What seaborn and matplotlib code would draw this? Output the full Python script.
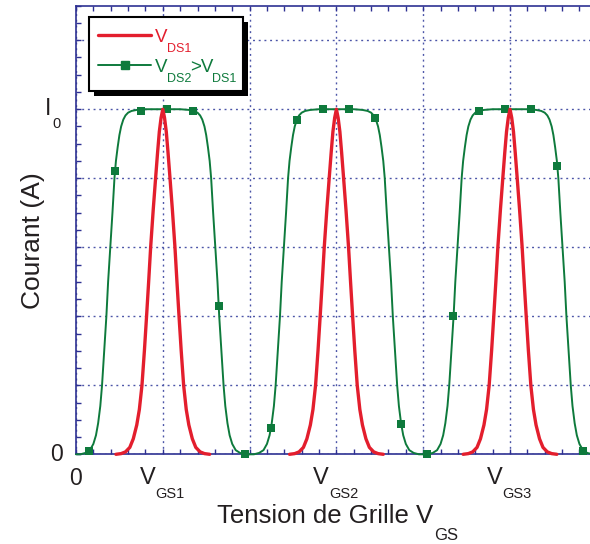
import numpy as np
import pandas as pd
import matplotlib.pyplot as plt
import seaborn as sns
from matplotlib.patches import Rectangle
from matplotlib.lines import Line2D
from matplotlib.ticker import MultipleLocator

# peak positions on the V_GS axis
peak_centres = [1.0, 3.0, 5.0]
vgs_subs = ["GS1", "GS2", "GS3"]

# half profile of one red peak (V_DS1): distance from the peak -> current / I0
red_offset = [0.0, 0.02, 0.04, 0.06, 0.083, 0.11, 0.14, 0.163, 0.187, 0.212,
              0.24, 0.27, 0.30, 0.34, 0.38, 0.43, 0.48, 0.54]
red_level = [1.0, 0.975, 0.935, 0.875, 0.80, 0.71, 0.60, 0.50, 0.40, 0.30,
             0.20, 0.13, 0.085, 0.045, 0.02, 0.007, 0.002, 0.0]

# half profile of one green peak (V_DS2 > V_DS1)
green_offset = [0.0, 0.2, 0.3, 0.36, 0.40, 0.43, 0.455, 0.48, 0.50, 0.52, 0.54,
                0.557, 0.58, 0.605, 0.63, 0.65, 0.675, 0.70, 0.72, 0.745, 0.77,
                0.80, 0.84, 0.89, 0.95, 1.0]
green_level = [1.0, 1.0, 0.998, 0.995, 0.99, 0.982, 0.97, 0.95, 0.925, 0.89, 0.85,
               0.80, 0.70, 0.60, 0.50, 0.40, 0.30, 0.20, 0.14, 0.09, 0.055,
               0.03, 0.012, 0.004, 0.0, 0.0]

# square symbols on the green curve
marker_x = [0.145, 0.445, 0.745, 1.045, 1.345, 1.645, 1.945, 2.245, 2.545, 2.845,
            3.145, 3.445, 3.745, 4.045, 4.345, 4.645, 4.945, 5.245, 5.545, 5.845]
marker_y = [0.01, 0.82, 0.995, 1.0, 0.995, 0.43, 0.0, 0.075, 0.97, 1.0,
            1.0, 0.975, 0.087, 0.0, 0.40, 0.995, 1.0, 1.0, 0.836, 0.01]

RED = "#E31E2D"
GREEN = "#0E7A3C"
NAVY = "#2E3192"
GRID = "#4C55A8"
INK = "#231F20"


def build_curve(offset, level):
    off = np.array(offset)
    lev = np.array(level)
    off = np.concatenate([-off[:0:-1], off])
    lev = np.concatenate([lev[:0:-1], lev])
    parts = [pd.DataFrame({"x": c + off, "current": lev, "peak": i})
             for i, c in enumerate(peak_centres)]
    return pd.concat(parts, ignore_index=True)


red_df = build_curve(red_offset, red_level)
green_df = build_curve(green_offset, green_level)
marks_df = pd.DataFrame({"x": marker_x, "current": marker_y})

sns.set_style("ticks")
plt.rcParams["font.family"] = ["Liberation Sans", "DejaVu Sans"]

W, H = 590, 544
fig = plt.figure(figsize=(W / 100, H / 100), dpi=100)
ax = fig.add_axes([76 / W, 1 - 454.3 / H, 514 / W, 448.6 / H])

sns.lineplot(data=green_df, x="x", y="current", units="peak", estimator=None,
             sort=False, color=GREEN, lw=1.4, ax=ax, clip_on=False, zorder=3)
sns.scatterplot(data=marks_df, x="x", y="current", marker="s", s=30,
                color=GREEN, edgecolor=GREEN, linewidth=0, ax=ax,
                clip_on=False, zorder=4)
sns.lineplot(data=red_df, x="x", y="current", units="peak", estimator=None,
             sort=False, color=RED, lw=2.4, ax=ax, clip_on=False, zorder=5)

ax.set_xlim(0, 514 / 86.8)
ax.set_ylim(0, 1.3)
ax.xaxis.set_major_locator(MultipleLocator(1))
ax.xaxis.set_minor_locator(MultipleLocator(0.2))
ax.yaxis.set_major_locator(MultipleLocator(0.2))
ax.yaxis.set_minor_locator(MultipleLocator(0.05))
ax.tick_params(which="both", direction="in", length=3.4, width=1.0, color=NAVY,
               top=True, right=False, labelleft=False, labelbottom=False)
ax.grid(True, which="major", color=GRID, linestyle=(0, (1.4, 2.7)), linewidth=1.0)
ax.set_axisbelow(True)
for side in ["left", "bottom", "top"]:
    ax.spines[side].set_color(NAVY)
    ax.spines[side].set_linewidth(1.2)
ax.spines["right"].set_visible(False)


def put(text, xy, coords, dx, dy, size, ha, color=INK):
    ax.annotate(text, xy=xy, xycoords=coords, xytext=(dx, dy),
                textcoords="offset points", fontsize=size, ha=ha,
                va="baseline", color=color, annotation_clip=False)


# tick labels
put("0", (0, 0), "data", 0, -22.1, 16.5, "center")
put("0", (0, 0), "data", -9.4, -4.8, 16.5, "right")
put("I", (0, 1.0), "data", -18.0, -4.2, 16.5, "right")
put("0", (0, 1.0), "data", -17.3, -13.5, 10.5, "left")
for c, sub in zip(peak_centres, vgs_subs):
    put("V", (c, 0), ("data", "axes fraction"), -5.5, -21.4, 17, "right")
    put(sub, (c, 0), ("data", "axes fraction"), -5.5, -31.5, 10.5, "left")

# axis titles
ax.set_xlabel("Tension de Grille V", fontsize=18.5, color=INK, ha="right", va="baseline")
ax.xaxis.set_label_coords((433 - 76) / 514, (454.3 - 523) / 448.6)
ax.text((434 - 76) / 514, (454.3 - 539.5) / 448.6, "GS", transform=ax.transAxes,
        fontsize=12, color=INK, ha="left", va="baseline")
ax.set_ylabel("Courant (A)", fontsize=19, color=INK, va="baseline")
ax.yaxis.set_label_coords((40 - 76) / 514, (454.3 - 241) / 448.6)


# legend box drawn in figure pixels
def fx(p):
    return p / W


def fy(p):
    return 1 - p / H


fig.add_artist(Rectangle((fx(94), fy(96)), 154 / W, 74 / H, transform=fig.transFigure,
                         facecolor="black", edgecolor="none", zorder=10))
fig.add_artist(Rectangle((fx(89), fy(91)), 154 / W, 74 / H, transform=fig.transFigure,
                         facecolor="white", edgecolor="black", lw=1.5, zorder=11))
fig.add_artist(Line2D([fx(98), fx(151)], [fy(35), fy(35)], transform=fig.transFigure,
                      color=RED, lw=2.4, zorder=12))
fig.add_artist(Line2D([fx(98), fx(151)], [fy(65), fy(65)], transform=fig.transFigure,
                      color=GREEN, lw=1.4, zorder=12))
fig.add_artist(Line2D([fx(125)], [fy(65)], transform=fig.transFigure, color=GREEN,
                      marker="s", markersize=5.3, lw=0, zorder=13))
legend_bits = [("V", 155, 42, 13.5, RED), ("DS1", 167, 52, 9, RED),
               ("V", 155, 72, 13.5, GREEN), ("DS2", 167, 82, 9, GREEN),
               (">V", 190, 72, 13.5, GREEN), ("DS1", 212, 82, 9, GREEN)]
for s, px, py, size, col in legend_bits:
    fig.text(fx(px), fy(py), s, fontsize=size, color=col, ha="left",
             va="baseline", zorder=14)

fig.savefig("out.png", dpi=100)
